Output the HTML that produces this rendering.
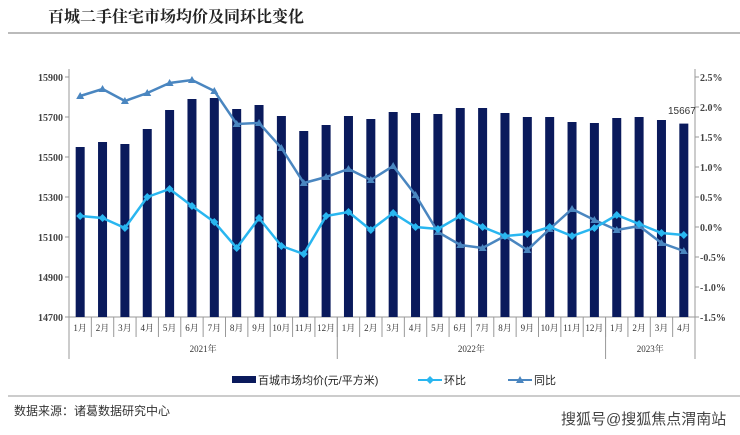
<!DOCTYPE html>
<html><head><meta charset="utf-8"><style>
body{margin:0;width:740px;height:435px;background:#fff;overflow:hidden}
svg{display:block}
</style></head><body>
<svg id="s" width="740" height="435" xmlns="http://www.w3.org/2000/svg" font-family="'Liberation Serif','Noto Serif CJK SC',serif">
<text x="48" y="22" font-size="16" font-weight="bold" fill="#222" font-family="'Liberation Serif','Noto Serif CJK SC',serif">百城二手住宅市场均价及同环比变化</text>
<line x1="8" y1="33" x2="740" y2="33" stroke="#bbb" stroke-width="2"/>
<g id="g"></g>
<g font-family="'Liberation Sans','Noto Sans CJK SC',sans-serif" font-size="11" fill="#222">
<rect x="232" y="376" width="24" height="7" fill="#0a1a5c"/>
<text x="258" y="384">百城市场均价(元/平方米)</text>
<line x1="418" y1="380" x2="442" y2="380" stroke="#29b6f0" stroke-width="2"/>
<path d="M430 376 L434 380 L430 384 L426 380Z" fill="#29b6f0"/>
<text x="444" y="384">环比</text>
<line x1="508" y1="380" x2="532" y2="380" stroke="#4a86c0" stroke-width="2"/>
<path d="M520 376 L524 383 L516 383Z" fill="#4a86c0"/>
<text x="534" y="384">同比</text>
</g>
<line x1="8" y1="396" x2="740" y2="396" stroke="#ccc" stroke-width="2"/>
<text x="14" y="415" font-size="12" fill="#333" font-family="'Liberation Sans','Noto Sans CJK SC',sans-serif">数据来源：诸葛数据研究中心</text>
<text x="561" y="424" font-size="15" fill="#444" font-family="'Liberation Sans','Noto Sans CJK SC',sans-serif">搜狐号@搜狐焦点渭南站</text>
</svg>
<script>
var g=document.getElementById('g'),NS='http://www.w3.org/2000/svg';
function el(t,a,txt){var e=document.createElementNS(NS,t);for(var k in a)e.setAttribute(k,a[k]);if(txt)e.textContent=txt;g.appendChild(e);return e;}
var L=69,R=695,T=77,B=317,N=28,w=(R-L)/N;
var bars=[15550,15575,15565,15640,15735,15790,15795,15740,15760,15705,15630,15660,15705,15690,15725,15720,15715,15745,15745,15720,15700,15700,15675,15670,15695,15700,15685,15667];
var hb=[216,218,228,197,189,206,222,248,218,246,254,216,212,230,213,227,229,216,227,236,234,227,236,228,215,224,233,235];
var tb=[96,89,101,93,83,80,91,124,123,148,183,177,169,180,166,195,232,245,248,236,250,229,209,220,230,226,243,251];
el('line',{x1:L,y1:T-8,x2:L,y2:B,stroke:'#999'});
el('line',{x1:R,y1:T-8,x2:R,y2:B,stroke:'#999'});
el('line',{x1:L,y1:B,x2:R,y2:B,stroke:'#999'});
for(var i=0;i<7;i++){var y=T+i*40;el('line',{x1:L-4,y1:y,x2:L,y2:y,stroke:'#999'});
el('text',{x:L-6,y:y+4,'font-size':10,'text-anchor':'end',fill:'#444','font-weight':'bold'},String(15900-200*i));}
for(var i=0;i<9;i++){var y=T+i*30;el('line',{x1:R,y1:y,x2:R+4,y2:y,stroke:'#999'});
var v=(2.5-0.5*i).toFixed(1)+'%';el('text',{x:R+5,y:y+4,'font-size':10,fill:'#444','font-weight':'bold'},v);}
for(var i=0;i<N;i++){var cx=L+w*(i+0.5),y=B-(bars[i]-14700)/5;
el('rect',{x:cx-4.5,y:y,width:9,height:B-y,fill:'#0a1a5c'});
el('line',{x1:L+w*i,y1:B,x2:L+w*i,y2:B+20,stroke:'#999'});
var m=(i<12?i:(i<24?i-12:i-24))+1;
el('text',{x:cx,y:B+14,'font-size':9,'text-anchor':'middle',fill:'#333','font-family':"'Liberation Serif','Noto Serif CJK SC',serif"},m+'月');}
[[0,'2021年',12],[12,'2022年',24],[24,'2023年',28]].forEach(function(a){
el('line',{x1:L+w*a[0],y1:B,x2:L+w*a[0],y2:B+42,stroke:'#999'});
el('text',{x:L+w*(a[0]+a[2])/2,y:B+35,'font-size':9,'text-anchor':'middle',fill:'#333'},a[1]);});
el('line',{x1:R,y1:B,x2:R,y2:B+42,stroke:'#999'});
function pts(a){return a.map(function(y,i){return (L+w*(i+0.5)).toFixed(1)+','+y}).join(' ');}
el('polyline',{points:pts(tb),fill:'none',stroke:'#4a86c0','stroke-width':2.5});
tb.forEach(function(y,i){var x=L+w*(i+0.5);el('path',{d:'M'+x+' '+(y-4)+' L'+(x+4)+' '+(y+3)+' L'+(x-4)+' '+(y+3)+'Z',fill:'#4a86c0'});});
el('polyline',{points:pts(hb),fill:'none',stroke:'#29b6f0','stroke-width':2.5});
hb.forEach(function(y,i){var x=L+w*(i+0.5);el('path',{d:'M'+x+' '+(y-4)+' L'+(x+4)+' '+y+' L'+x+' '+(y+4)+' L'+(x-4)+' '+y+'Z',fill:'#29b6f0'});});
el('text',{x:668,y:114,'font-size':10,fill:'#333','font-family':"'Liberation Sans',sans-serif"},'15667');
</script>
</body></html>
